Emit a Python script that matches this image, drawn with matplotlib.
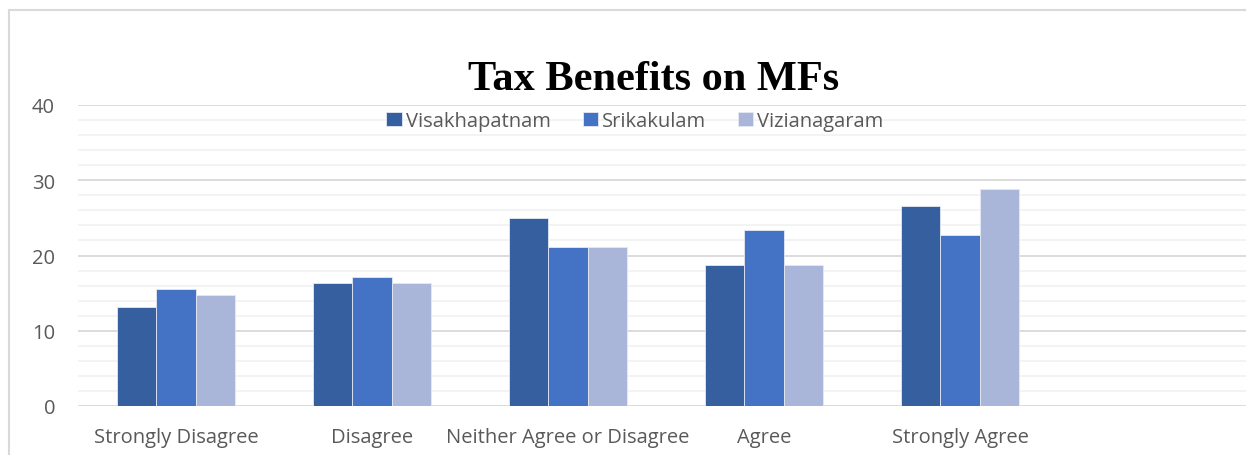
import numpy as np
import matplotlib.pyplot as plt
from matplotlib.patches import Rectangle
from matplotlib.ticker import MultipleLocator

# data
categories = ['Strongly Disagree', 'Disagree', 'Neither Agree or Disagree', 'Agree', 'Strongly Agree']
series_names = ['Visakhapatnam', 'Srikakulam', 'Vizianagaram']
visakhapatnam = [13.2, 16.4, 25.0, 18.8, 26.6]
srikakulam = [15.6, 17.2, 21.1, 23.4, 22.7]
vizianagaram = [14.8, 16.4, 21.1, 18.8, 28.9]
colors = ['#365FA0', '#4472C4', '#A9B6DA']

W, H = 1246, 456
fig = plt.figure(figsize=(W / 100, H / 100), dpi=100)

# chart frame
fig.patches.append(Rectangle((9 / W, -0.1), 1.2, 1.1 - 11 / H, transform=fig.transFigure,
                             fill=False, edgecolor='#D9D9D9', linewidth=1.5))

ax = fig.add_axes([78 / W, 49 / H, (W - 78) / W, 301 / H])

x = np.arange(len(categories))
bw = 0.2
for i, (name, vals) in enumerate(zip(series_names, [visakhapatnam, srikakulam, vizianagaram])):
    ax.bar(x + (i - 1) * bw, vals, bw, color=colors[i], label=name,
           edgecolor='#E4E9F4', linewidth=0.6, zorder=3)

ax.set_xlim(-0.5, -0.5 + (W - 78) / 196)
ax.set_ylim(0, 40)
ax.yaxis.set_major_locator(MultipleLocator(10))
ax.yaxis.set_minor_locator(MultipleLocator(2))
ax.grid(axis='y', which='major', color='#D9D9D9', linewidth=1.3, zorder=1)
ax.grid(axis='y', which='minor', color='#F2F2F2', linewidth=1.3, zorder=0)
ax.set_xticks(x)
ax.set_xticklabels(categories)
for s in ax.spines.values():
    s.set_visible(False)
ax.tick_params(axis='both', which='both', length=0, labelsize=14.5, colors='#595959')
ax.tick_params(axis='y', pad=16.5)
ax.tick_params(axis='x', pad=15)
for lab in ax.get_xticklabels() + ax.get_yticklabels():
    lab.set_fontfamily('Open Sans')

fig.text(654 / W, 1 - 80 / H, 'Tax Benefits on MFs', ha='center', va='center',
         fontsize=30.5, fontweight='bold', family='Liberation Serif', color='black')

leg = fig.legend(loc='center', bbox_to_anchor=(635 / W, 1 - 122 / H), ncol=3, frameon=False,
                 prop={'family': 'Open Sans', 'size': 14.5}, handlelength=0.75, handleheight=0.75,
                 handletextpad=0.2, columnspacing=1.6, labelcolor='#595959')

fig.savefig('out.png', dpi=100)
